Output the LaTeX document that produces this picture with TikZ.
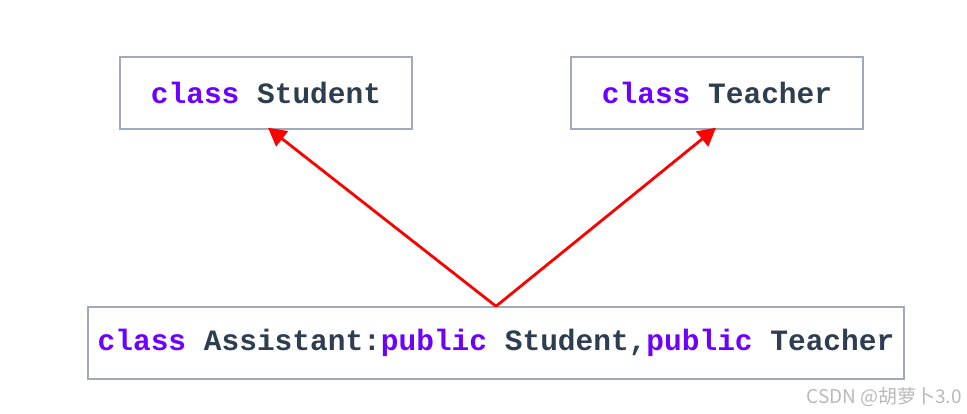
\documentclass[tikz,border=0pt]{standalone}
\usepackage{fontspec}
\setmonofont{Liberation Mono}
\newfontfamily\cjk{Noto Sans CJK SC}
\usetikzlibrary{arrows.meta}
\definecolor{kw}{RGB}{110,0,255}
\definecolor{tx}{RGB}{45,62,80}
\definecolor{bd}{RGB}{160,170,188}
\definecolor{wm}{RGB}{185,185,185}
\tikzset{
  box/.style={draw=bd, line width=1.5pt, fill=white, inner sep=0pt, font=\ttfamily\bfseries\fontsize{29.5}{29.5}\selectfont, text=tx},
  inherit/.style={draw=red, line width=2.8pt, -{Triangle[length=18pt,width=19pt]}, shorten >=0pt}
}
\newcommand{\kwd}[1]{\textcolor{kw}{#1}}
\begin{document}
\begin{tikzpicture}[x=1pt,y=-1pt]
\useasboundingbox (0,0) rectangle (967,414);
\node[box, minimum width=292pt, minimum height=72pt] (stu) at (266,93) {\kwd{class} Student};
\node[box, minimum width=292pt, minimum height=72pt] (tea) at (717,93) {\kwd{class} Teacher};
\node[box, minimum width=816pt, minimum height=72pt] (asst) at (496,343) {\kwd{class} Assistant:\kwd{public} Student,\kwd{public} Teacher};
\coordinate (src) at (asst.north);
\draw[inherit] (src) -- ([xshift=2pt,yshift=2pt]stu.south);
\draw[inherit] (src) -- ([xshift=-1pt,yshift=2pt]tea.south);
\node[anchor=east, text=wm, font=\cjk\fontsize{19}{19}\selectfont, inner sep=0pt] (wmk) at (962,397) {CSDN @胡萝卜3.0};
\end{tikzpicture}
\end{document}
